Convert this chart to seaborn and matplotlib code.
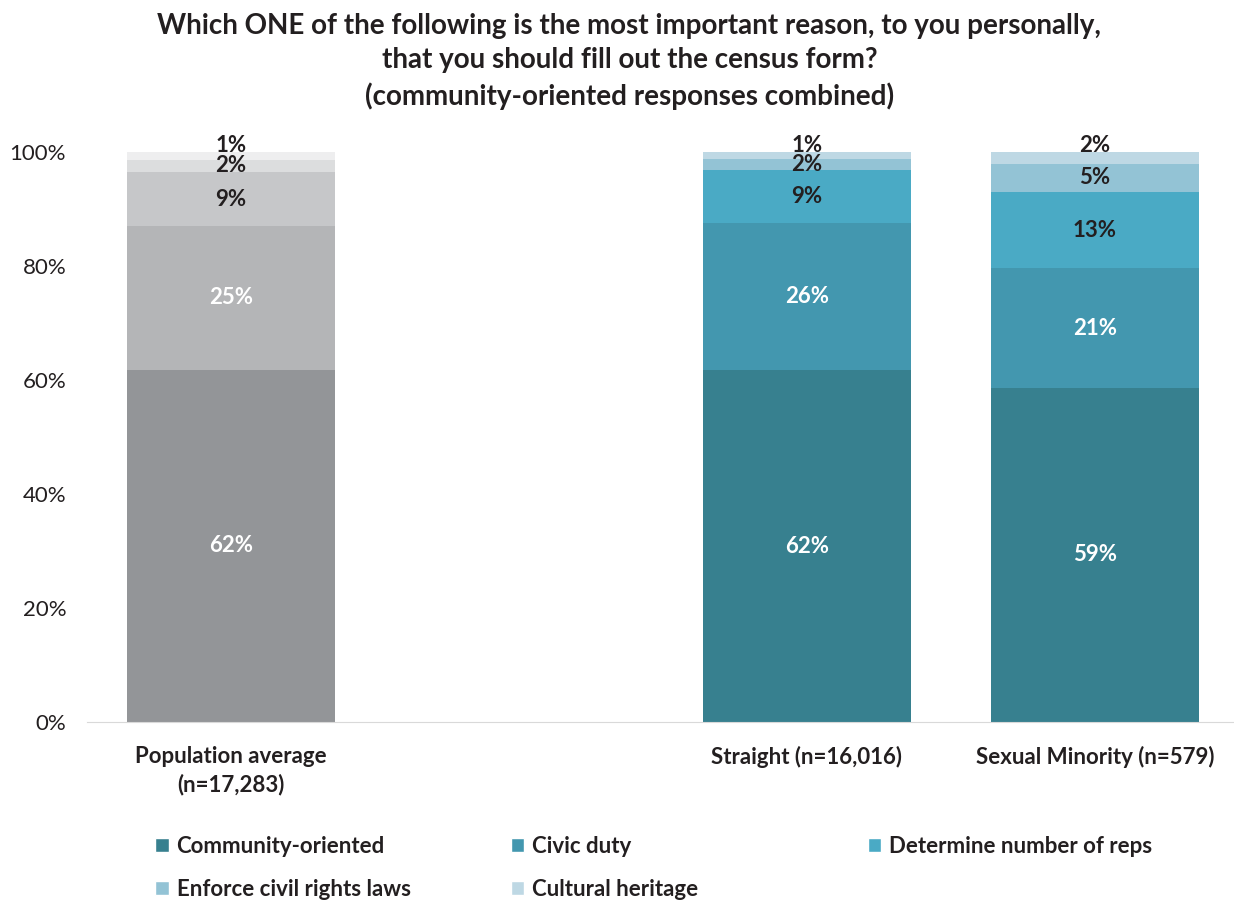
import numpy as np
import pandas as pd
import seaborn as sns
import matplotlib.pyplot as plt
from matplotlib.patches import Patch

# Data (percent of respondents)
groups = ["Population average\n(n=17,283)", "Straight (n=16,016)", "Sexual Minority (n=579)"]
slots = [groups[0], " ", groups[1], groups[2]]
reasons = ["Community-oriented", "Civic duty", "Determine number of reps",
           "Enforce civil rights laws", "Cultural heritage"]
community = [61.8, 61.8, 58.6]
civic = [25.2, 25.8, 21.0]
reps = [9.5, 9.3, 13.4]
civil_rights = [2.1, 2.0, 4.9]
heritage = [1.4, 1.2, 2.1]
labels = [["62%", "62%", "59%"],
          ["25%", "26%", "21%"],
          ["9%", "9%", "13%"],
          ["2%", "2%", "5%"],
          ["1%", "1%", "2%"]]

teal = ["#37808F", "#4397AF", "#4AAAC5", "#93C3D5", "#BED8E4"]
gray = ["#939598", "#B4B5B7", "#C6C7C9", "#DCDDDE", "#EEEEEF"]
dark = "#231F20"

sns.set_style("white")
plt.rcParams['font.family'] = ['Lato', 'DejaVu Sans']

values = np.array([community, civic, reps, civil_rights, heritage])
cum = values.cumsum(axis=0)
cum = cum / cum[-1] * 100  # normalise to 100%

fig = plt.figure(figsize=(12.34, 9.02), dpi=100)
ax = fig.add_axes([0.0705, 0.1996, 0.9335, 0.6319])

# draw cumulative bars from the top segment downwards so lower ones overlay
for k in range(len(reasons) - 1, -1, -1):
    df = pd.DataFrame({"group": groups, "top": cum[k]})
    pal = {groups[0]: gray[k], groups[1]: teal[k], groups[2]: teal[k]}
    sns.barplot(data=df, x="group", y="top", hue="group", order=slots,
                palette=pal, width=0.72, legend=False, ax=ax, saturation=1,
                linewidth=0, edgecolor="none")

# segment labels
slot_pos = {g: slots.index(g) for g in groups}
for k in range(len(reasons)):
    for j, g in enumerate(groups):
        bottom = cum[k - 1][j] if k > 0 else 0
        y = (bottom + cum[k][j]) / 2
        if k == len(reasons) - 1:
            y = 101.2
        color = "white" if k < 2 else dark
        ax.text(slot_pos[g], y, labels[k][j], ha="center", va="center",
                fontsize=16, fontweight="bold", color=color, clip_on=False)

ax.set_xlim(-0.5, 3.5)
ax.set_ylim(0, 100)
ax.set_yticks(range(0, 101, 20))
ax.set_yticklabels([f"{t}%" for t in range(0, 101, 20)], fontsize=16, color=dark)
ax.set_xlabel("")
ax.set_ylabel("")
ax.tick_params(axis="x", length=0, pad=17)
ax.tick_params(axis="y", length=0, pad=15)
for lbl in ax.get_xticklabels():
    lbl.set_fontweight("bold")
    lbl.set_fontsize(16)
    lbl.set_color(dark)
    lbl.set_linespacing(1.4)
for s in ["top", "right", "left"]:
    ax.spines[s].set_visible(False)
ax.spines["bottom"].set_color("#D9D9D9")

fig.text(0.51, 0.986, "Which ONE of the following is the most important reason, to you personally,\n"
         "that you should fill out the census form?\n(community-oriented responses combined)",
         ha="center", va="top", fontsize=20, fontweight="bold", color=dark, linespacing=1.4)

# legend laid out in three fixed columns like the original
cols = [(0.117, [0, 3]), (0.405, [1, 4]), (0.694, [2])]
for x, idx in cols:
    handles = [Patch(facecolor=teal[i], label=reasons[i]) for i in idx]
    leg = fig.legend(handles=handles, loc="upper left", bbox_to_anchor=(x, 0.0855),
                     bbox_transform=fig.transFigure, frameon=False, borderpad=0,
                     handlelength=0.6, handleheight=0.6, handletextpad=0.35,
                     labelspacing=1.0, prop={"weight": "bold", "size": 16})
    for t in leg.get_texts():
        t.set_color(dark)

fig.savefig("out.png", dpi=100)
